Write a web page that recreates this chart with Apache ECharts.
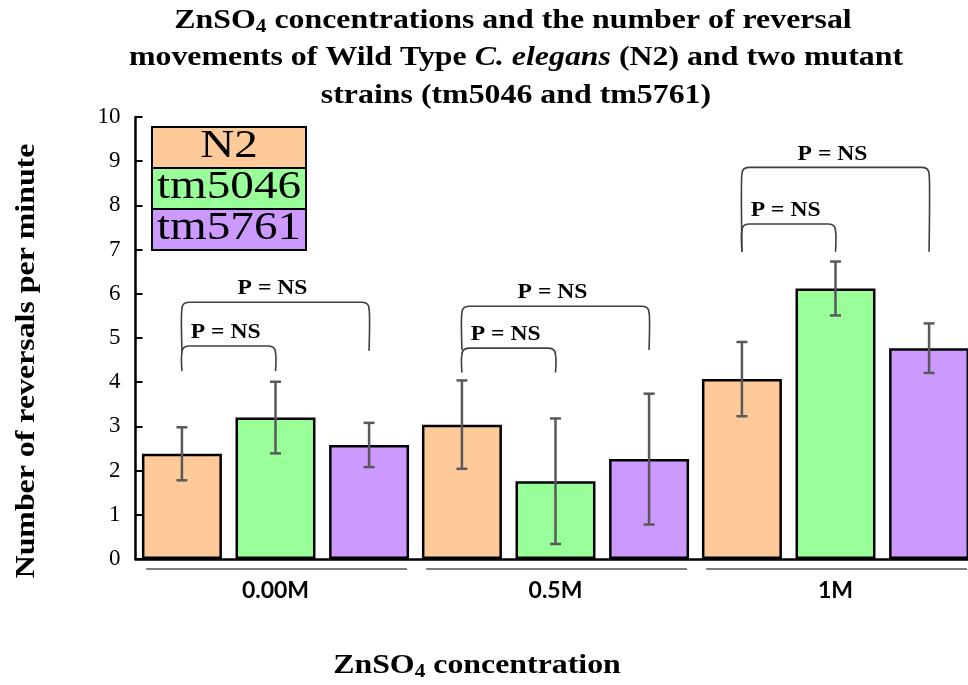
<!DOCTYPE html>
<html>
<head>
<meta charset="utf-8">
<script src="https://cdn.jsdelivr.net/npm/echarts@6/dist/echarts.min.js"></script>
<style>html,body{margin:0;padding:0;background:#fff;}#c{width:968px;height:685px;}</style>
</head>
<body>
<div id="c"></div>
<script>
// ---- data ----
const categories = ['0.00M', '0.5M', '1M'];
const seriesNames = ['N2', 'tm5046', 'tm5761'];
const n2Values = [2.38, 3.04, 4.07];
const tm5046Values = [3.20, 1.76, 6.12];
const tm5761Values = [2.58, 2.26, 4.77];
const n2Errors = [0.60, 1.00, 0.84];
const tm5046Errors = [0.81, 1.42, 0.61];
const tm5761Errors = [0.50, 1.48, 0.56];
const yTickMin = 0, yTickMax = 10, yTickStep = 1;
// significance brackets: [category, fromBar, toBar, top, leftBottom, rightBottom]
const bracketSpans = [
  [0, 0, 1, 4.82, 4.25, 4.25],
  [0, 0, 2, 5.81, 4.71, 4.71],
  [1, 0, 1, 4.77, 4.22, 4.22],
  [1, 0, 2, 5.72, 4.73, 4.73],
  [2, 0, 1, 7.58, 6.95, 6.95],
  [2, 0, 2, 8.86, 6.95, 6.95]
];
const bracketLabels = ['P = NS', 'P = NS', 'P = NS', 'P = NS', 'P = NS', 'P = NS'];
const titleLines = [
  'ZnSO{sub|4} concentrations and the number of reversal',
  'movements of Wild Type {it|C. elegans} (N2) and two mutant',
  'strains (tm5046 and tm5761)'
];
const xAxisTitle = 'ZnSO{sub|4} concentration';
const yAxisTitle = 'Number of reversals per minute';

// ---- styles ----
const colors = ['#FFCA99', '#99FF99', '#CC99FF'];
const CAT_GAP = 0.046, BAR_GAP = 0.17;
const STRETCH = 1.18;
const serif = '"Liberation Serif", "Times New Roman", serif';

const valuesBySeries = [n2Values, tm5046Values, tm5761Values];
const errorsBySeries = [n2Errors, tm5046Errors, tm5761Errors];

function barCenter(api, cat, idx) {
  const c = api.coord([cat, 0]);
  const bandW = api.size([1, 0])[0];
  const usable = bandW * (1 - CAT_GAP);
  const bw = usable / (3 + 2 * BAR_GAP);
  return c[0] + (idx - 1) * bw * (1 + BAR_GAP);
}

const errorData = [];
for (let s = 0; s < 3; s++) {
  for (let c = 0; c < categories.length; c++) {
    errorData.push([c, s, valuesBySeries[s][c] - errorsBySeries[s][c], valuesBySeries[s][c] + errorsBySeries[s][c]]);
  }
}

const barSeries = seriesNames.map((name, i) => ({
  name: name,
  type: 'bar',
  data: valuesBySeries[i],
  barCategoryGap: (CAT_GAP * 100) + '%',
  barGap: (BAR_GAP * 100) + '%',
  itemStyle: { color: colors[i], borderColor: '#000', borderWidth: 2.5 },
  emphasis: { disabled: true },
  z: 2
}));

const errorSeries = {
  type: 'custom',
  data: errorData,
  encode: { x: 0, y: [2, 3] },
  z: 5,
  silent: true,
  renderItem: function (params, api) {
    const cat = api.value(0), s = api.value(1);
    const x = barCenter(api, cat, s);
    const lo = api.coord([cat, api.value(2)])[1];
    const hi = api.coord([cat, api.value(3)])[1];
    const w = 5.5;
    const st = { stroke: '#595959', lineWidth: 2.5, fill: null };
    return { type: 'group', children: [
      { type: 'line', shape: { x1: x, y1: lo, x2: x, y2: hi }, style: st },
      { type: 'line', shape: { x1: x - w, y1: lo, x2: x + w, y2: lo }, style: st },
      { type: 'line', shape: { x1: x - w, y1: hi, x2: x + w, y2: hi }, style: st }
    ]};
  }
};

const bracketSeries = {
  type: 'custom',
  data: bracketSpans.map((b) => b),
  encode: { x: 0, y: 3 },
  z: 6,
  silent: true,
  clip: false,
  renderItem: function (params, api) {
    const cat = api.value(0);
    const xL = barCenter(api, cat, api.value(1));
    const xR = barCenter(api, cat, api.value(2));
    const yT = api.coord([cat, api.value(3)])[1];
    const yBL = api.coord([cat, api.value(4)])[1];
    const yBR = api.coord([cat, api.value(5)])[1];
    const r = 7;
    const d = 'M' + xL + ' ' + yBL + ' Q' + (xL - 1) + ' ' + (yT + r + 4) + ' ' + xL + ' ' + (yT + r) +
      ' Q' + xL + ' ' + yT + ' ' + (xL + r) + ' ' + yT +
      ' L' + (xR - r) + ' ' + yT +
      ' Q' + xR + ' ' + yT + ' ' + xR + ' ' + (yT + r) +
      ' Q' + (xR + 1) + ' ' + (yT + r + 4) + ' ' + xR + ' ' + yBR;
    return { type: 'group', children: [
      { type: 'path', shape: { pathData: d }, style: { stroke: '#3f3f3f', lineWidth: 1.6, fill: null } },
      { type: 'text', x: (xL + xR) / 2 - 3, y: yT - 3, scaleX: STRETCH,
        style: { text: bracketLabels[params.dataIndex], x: 0, y: 0,
          align: 'center', verticalAlign: 'bottom', fontFamily: serif, fontWeight: 'bold', fontSize: 20, fill: '#000' } }
    ]};
  }
};

const groupLineSeries = {
  type: 'custom',
  data: categories.map((c, i) => [i, 0]),
  encode: { x: 0, y: 1 },
  z: 1,
  silent: true,
  clip: false,
  renderItem: function (params, api) {
    const cat = api.value(0);
    const c = api.coord([cat, 0]);
    const bandW = api.size([1, 0])[0];
    return { type: 'line', shape: { x1: c[0] - bandW * 0.462, y1: c[1] + 10, x2: c[0] + bandW * 0.47, y2: c[1] + 10 },
      style: { stroke: '#7f7f7f', lineWidth: 2 } };
  }
};

// legend drawn as labelled colour boxes
const legendGraphics = seriesNames.map((name, i) => ({
  type: 'group', x: 152, y: 127 + i * 41,
  children: [
    { type: 'rect', shape: { x: 0, y: 0, width: 154, height: 41 }, style: { fill: colors[i], stroke: '#000', lineWidth: 2 } },
    { type: 'text', x: 77, y: 19, scaleX: STRETCH,
      style: { text: name, x: 0, y: 0, align: 'center', verticalAlign: 'middle', fontFamily: serif, fontSize: 40, fill: '#000' } }
  ]
}));

const richSerif = {
  sub: { fontFamily: serif, fontWeight: 'bold', fontSize: 18, padding: [13, 0, 0, 0] },
  it: { fontFamily: serif, fontWeight: 'bold', fontStyle: 'italic', fontSize: 27 }
};

const titleGraphics = titleLines.map((line, i) => ({
  type: 'text', x: i === 0 ? 513 : 516, y: 21 + i * 37.5, scaleX: STRETCH,
  style: { text: line, x: 0, y: 0, align: 'center', verticalAlign: 'middle',
    fontFamily: serif, fontWeight: 'bold', fontSize: 27, fill: '#000', rich: richSerif }
}));

const chart = echarts.init(document.getElementById('c'), null, { renderer: 'canvas' });
chart.setOption({
  backgroundColor: '#fff',
  animation: false,
  grid: { left: 135.5, top: 117, width: 840, height: 442, containLabel: false, outerBoundsMode: 'none' },
  xAxis: {
    type: 'category',
    data: categories,
    axisLine: { lineStyle: { color: '#000', width: 2.5 } },
    axisTick: { show: false },
    axisLabel: { color: '#000', fontFamily: 'Lato, "Liberation Sans", sans-serif', fontWeight: 'bold', fontSize: 23, margin: 20 }
  },
  yAxis: {
    type: 'value',
    min: yTickMin, max: yTickMax, interval: yTickStep,
    axisLine: { show: true, lineStyle: { color: '#000', width: 2.5 } },
    axisTick: { show: true, inside: true, length: 7, lineStyle: { color: '#000', width: 2 } },
    splitLine: { show: false },
    axisLabel: { color: '#000', fontFamily: serif, fontSize: 23, margin: 15 }
  },
  graphic: legendGraphics.concat(titleGraphics, [
    { type: 'text', x: 477, y: 666, scaleX: STRETCH,
      style: { text: xAxisTitle, x: 0, y: 0, align: 'center', verticalAlign: 'middle',
        fontFamily: serif, fontWeight: 'bold', fontSize: 27, fill: '#000', rich: { sub: richSerif.sub } } },
    { type: 'text', x: 27, y: 361, rotation: Math.PI / 2, scaleX: STRETCH,
      style: { text: yAxisTitle, x: 0, y: 0, align: 'center', verticalAlign: 'middle',
        fontFamily: serif, fontWeight: 'bold', fontSize: 27, fill: '#000' } }
  ]),
  series: barSeries.concat([errorSeries, bracketSeries, groupLineSeries])
});
</script>
</body>
</html>
